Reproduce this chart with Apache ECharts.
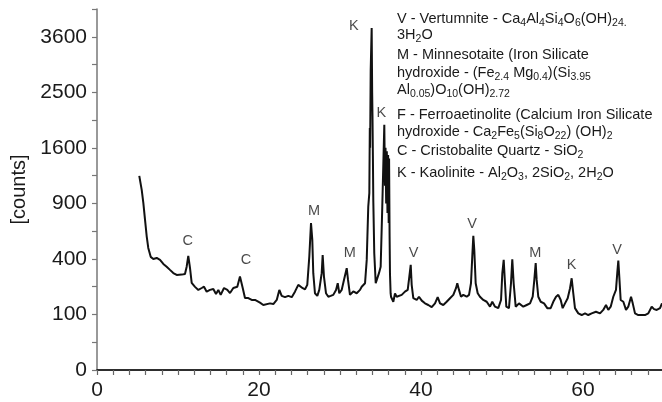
<!DOCTYPE html>
<html>
<head>
<meta charset="utf-8">
<script src="https://cdn.jsdelivr.net/npm/echarts@6/dist/echarts.min.js"></script>
<style>
  html, body { margin: 0; padding: 0; background: #fff; }
  #chart { width: 662px; height: 402px; }
</style>
</head>
<body>
<div id="chart"></div>
<script>
// diffraction angle (2 theta, degrees) and intensity (counts)
let twoTheta = [
  5.22, 5.52, 5.72, 5.93, 6.14, 6.33, 6.63, 6.95, 7.37, 7.78, 8.19, 8.6, 9.01, 9.42, 9.84,
  10.46, 10.86, 11.07, 11.27, 11.48, 11.69, 12.1, 12.51, 12.93, 13.21, 13.54, 13.95, 14.36, 14.69, 14.98,
  15.27, 15.68, 16.09, 16.42, 16.83, 17.32, 17.65, 17.78, 17.99, 18.27, 18.68, 19.1, 19.51, 20.12, 20.53,
  20.74, 21.36, 21.77, 22.19, 22.51, 22.8, 23.21, 23.62, 24.04, 24.44, 24.85, 25.06, 25.4, 25.68, 25.96,
  26.21, 26.42, 26.58, 26.7, 26.91, 27.2, 27.44, 27.74, 27.86, 28.02, 28.27, 28.56, 28.85, 29.17, 29.51,
  29.72, 29.91, 30.21, 30.49, 30.83, 30.99, 31.23, 31.64, 32.06, 32.47, 32.68, 33.09, 33.3, 33.49, 33.62,
  33.68, 33.72, 33.79, 33.91, 33.97, 34.01, 34.06, 34.11, 34.23, 34.41, 34.6, 34.81, 35.02, 35.22, 35.47,
  35.55, 35.62, 35.7, 35.78, 35.86, 35.94, 36.01, 36.06, 36.12, 36.17, 36.25, 36.3, 36.58, 36.79, 37.0,
  37.2, 37.62, 38.02, 38.36, 38.56, 38.73, 38.85, 39.05, 39.47, 39.75, 40.09, 40.49, 40.9, 41.32, 41.73,
  42.06, 42.35, 42.75, 43.17, 43.58, 43.99, 44.32, 44.48, 44.69, 44.94, 45.22, 45.64, 45.93, 46.17, 46.33,
  46.46, 46.58, 46.75, 47.0, 47.28, 47.69, 48.11, 48.52, 48.8, 49.14, 49.54, 49.88, 50.04, 50.21, 50.37,
  50.53, 50.86, 51.11, 51.27, 51.44, 51.69, 52.1, 52.63, 53.05, 53.46, 53.79, 53.99, 54.16, 54.28, 54.48,
  54.78, 55.19, 55.59, 56.01, 56.33, 56.67, 56.95, 57.25, 57.49, 57.78, 58.11, 58.4, 58.6, 58.8, 59.01,
  59.42, 59.84, 60.25, 60.65, 61.07, 61.6, 62.1, 62.5, 62.84, 63.12, 63.42, 63.74, 64.07, 64.23, 64.36,
  64.48, 64.65, 64.98, 65.31, 65.59, 65.93, 66.14, 66.42, 66.83, 67.25, 67.65, 68.06, 68.48, 68.77, 69.1,
  69.51, 69.75
];
let counts = [
  1222, 1052, 905, 730, 577, 483, 415, 400, 407, 393, 365, 346, 325, 305, 293,
  295, 299, 346, 422, 338, 246, 224, 208, 218, 225, 199, 208, 213, 187, 208,
  183, 218, 208, 192, 218, 225, 283, 293, 218, 168, 168, 159, 159, 147, 137,
  137, 144, 141, 159, 208, 178, 172, 178, 172, 199, 235, 244, 217, 211, 235,
  417, 699, 549, 304, 191, 178, 208, 304, 429, 283, 191, 174, 178, 183, 208,
  244, 191, 208, 263, 336, 263, 183, 200, 191, 208, 225, 244, 393, 866, 1014,
  1900, 1600, 2922, 3791, 2500, 2100, 1500, 938, 442, 244, 244, 304, 346, 866, 1949,
  1100, 1600, 900, 1550, 800, 1500, 700, 1450, 600, 300, 190, 174, 151, 190, 174,
  174, 183, 199, 208, 283, 358, 235, 167, 159, 174, 156, 144, 137, 128, 144,
  172, 144, 137, 151, 167, 183, 217, 244, 208, 174, 183, 174, 183, 244, 417,
  583, 467, 244, 191, 174, 159, 151, 130, 151, 130, 124, 159, 304, 393, 244,
  130, 124, 244, 398, 244, 130, 144, 130, 137, 144, 174, 263, 370, 263, 174,
  151, 144, 124, 124, 151, 174, 183, 159, 124, 144, 167, 217, 273, 191, 124,
  104, 98, 104, 98, 104, 110, 104, 117, 137, 117, 130, 174, 208, 304, 388,
  283, 159, 151, 117, 130, 174, 144, 104, 98, 98, 98, 104, 130, 120, 117,
  124, 144
];

// phase letters above the peaks
let peakPhase = ['C', 'C', 'M', 'M', 'K', 'K', 'V', 'V', 'M', 'K', 'V'];
let peakAngle = [11.2, 18.4, 26.8, 31.2, 31.7, 35.1, 39.1, 46.3, 54.1, 58.6, 64.2];
let peakCounts = [540, 393, 820, 444, 3844, 2144, 444, 692, 444, 358, 467];

// key text, _{..} = subscript
let keyLines = [
  'V - Vertumnite - Ca_{4}Al_{4}Si_{4}O_{6}(OH)_{24.}',
  '3H_{2}O',
  'M - Minnesotaite (Iron Silicate',
  'hydroxide - (Fe_{2.4} Mg_{0.4})(Si_{3.95}',
  'Al_{0.05})O_{10}(OH)_{2.72}',
  'F - Ferroaetinolite (Calcium Iron Silicate',
  'hydroxide - Ca_{2}Fe_{5}(Si_{8}O_{22}) (OH)_{2}',
  'C - Cristobalite Quartz - SiO_{2}',
  'K - Kaolinite - Al_{2}O_{3}, 2SiO_{2}, 2H_{2}O'
];
let keyTop = [21, 37, 57, 75, 92, 117, 134, 153, 175];

const FONT = '"Liberation Sans", Arial, Helvetica, sans-serif';

function toRich(s) {
  return '{n|' + s.replace(/_\{([^}]*)\}/g, '}{s|$1}{n|') + '}';
}

let dom = document.getElementById('chart');
let myChart = echarts.init(dom, null, {renderer: 'canvas'});

let lineData = twoTheta.map((x, i) => [x, Math.sqrt(counts[i])]);
let labelData = peakAngle.map((x, i) => ({name: peakPhase[i], value: [x, Math.sqrt(peakCounts[i])]}));

let keyGraphics = keyLines.map((s, i) => ({
  type: 'text',
  left: 397,
  top: keyTop[i] - 10,
  silent: true,
  style: {
    text: toRich(s),
    fill: '#1a1a1a',
    font: '14.5px ' + FONT,
    rich: {
      n: {fontSize: 14.5, fontFamily: FONT, lineHeight: 20, verticalAlign: 'middle', fill: '#1a1a1a'},
      s: {fontSize: 10.5, fontFamily: FONT, lineHeight: 10, verticalAlign: 'bottom', fill: '#1a1a1a'}
    }
  }
}));

let option = {
  animation: false,
  backgroundColor: '#fff',
  grid: {left: 97, right: -2, top: 9, bottom: 32, containLabel: false, outerBoundsMode: 'none'},
  xAxis: [{
    type: 'value',
    min: 0,
    max: 70,
    interval: 2,
    axisLine: {show: true, onZero: false, lineStyle: {color: '#666', width: 1.5}},
    axisTick: {show: true, length: 5, lineStyle: {color: '#666', width: 1.2}},
    axisLabel: {
      margin: 10,
      color: '#1a1a1a',
      fontSize: 21,
      fontFamily: FONT,
      formatter: (v) => (v % 20 === 0 ? String(v) : '')
    },
    splitLine: {show: false}
  }, {
    type: 'value',
    position: 'top',
    min: 0,
    max: 70,
    axisLine: {show: true, lineStyle: {color: '#111', width: 1.5}},
    axisTick: {show: false},
    axisLabel: {show: false},
    splitLine: {show: false}
  }],
  yAxis: {
    type: 'value',
    min: 0,
    max: 65,
    interval: 5,
    name: '[counts]',
    nameLocation: 'middle',
    nameGap: 68,
    nameTextStyle: {color: '#1a1a1a', fontSize: 20, fontFamily: FONT},
    axisLine: {show: true, lineStyle: {color: '#777', width: 1.5}},
    axisTick: {show: true, length: 5, lineStyle: {color: '#777', width: 1.2}},
    axisLabel: {
      margin: 10,
      color: '#1a1a1a',
      fontSize: 21,
      fontFamily: FONT,
      formatter: (v) => (v % 10 === 0 && v <= 60 ? String(v * v) : '')
    },
    splitLine: {show: false}
  },
  graphic: keyGraphics,
  series: [{
    type: 'line',
    data: lineData,
    showSymbol: false,
    symbol: 'none',
    silent: true,
    lineStyle: {color: '#111', width: 2},
    z: 3
  }, {
    type: 'scatter',
    data: labelData,
    symbolSize: 1,
    silent: true,
    itemStyle: {color: 'rgba(0,0,0,0)'},
    label: {
      show: true,
      position: 'inside',
      formatter: (p) => p.name,
      color: '#1a1a1a',
      fontSize: 14.5,
      fontFamily: FONT
    },
    z: 4
  }]
};

myChart.setOption(option);
</script>
</body>
</html>
